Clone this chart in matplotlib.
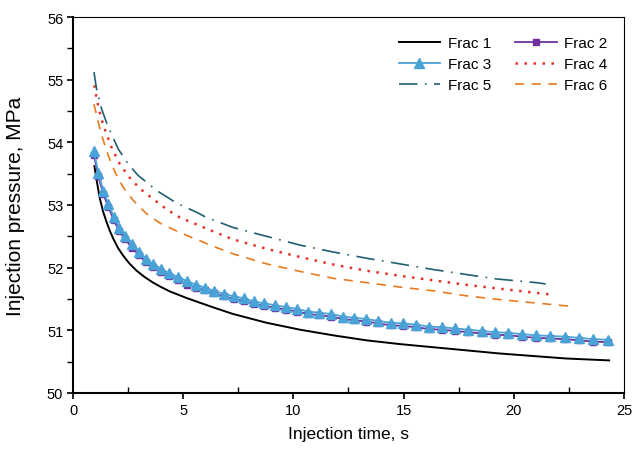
import matplotlib
matplotlib.use('Agg')
import matplotlib.pyplot as plt
from matplotlib import font_manager
from matplotlib.ticker import MultipleLocator

# 时间点 (s) 与注入压力 (MPa)
t1 = [0.97, 1.1, 1.22, 1.37, 1.53, 1.68, 1.83, 2.05, 2.28, 2.55, 2.89, 3.25, 3.64, 4.0, 4.40,
      5.16, 5.76, 6.5, 7.27, 8.79, 10.3, 11.81, 13.32, 14.84, 16.35, 17.86, 19.37, 20.88, 22.4, 24.33]
p1 = [53.62, 53.34, 53.10, 52.89, 52.72, 52.58, 52.46, 52.31, 52.19, 52.07, 51.95, 51.85, 51.76, 51.69, 51.62,
      51.515, 51.44, 51.35, 51.26, 51.12, 51.01, 50.92, 50.84, 50.78, 50.73, 50.68, 50.63, 50.59, 50.55, 50.52]

t23 = [0.95, 1.15, 1.37, 1.60, 1.85, 2.10, 2.37, 2.68, 3.00, 3.31, 3.64, 4.00, 4.37, 4.78, 5.19, 5.58, 6.00,
       6.41, 6.86, 7.32, 7.77, 8.23, 8.68, 9.18, 9.68, 10.18, 10.68, 11.18, 11.72, 12.24, 12.76, 13.31, 13.85,
       14.43, 14.99, 15.55, 16.15, 16.73, 17.33, 17.94, 18.54, 19.15, 19.75, 20.37, 20.99, 21.66, 22.31, 22.96,
       23.61, 24.26]
p2 = [53.80, 53.46, 53.18, 52.97, 52.76, 52.59, 52.45, 52.32, 52.20, 52.09, 52.01, 51.93, 51.86, 51.80, 51.73,
      51.68, 51.64, 51.59, 51.54, 51.50, 51.47, 51.42, 51.39, 51.36, 51.33, 51.30, 51.26, 51.24, 51.22, 51.18,
      51.16, 51.14, 51.11, 51.08, 51.07, 51.05, 51.02, 51.01, 50.99, 50.97, 50.95, 50.93, 50.92, 50.90, 50.88,
      50.87, 50.86, 50.84, 50.82, 50.81]
p3 = [53.86, 53.51, 53.23, 53.02, 52.81, 52.64, 52.50, 52.37, 52.25, 52.14, 52.06, 51.98, 51.91, 51.85, 51.78,
      51.73, 51.68, 51.63, 51.58, 51.54, 51.51, 51.46, 51.43, 51.40, 51.37, 51.34, 51.30, 51.28, 51.26, 51.22,
      51.20, 51.18, 51.15, 51.12, 51.11, 51.09, 51.06, 51.05, 51.03, 51.01, 50.99, 50.97, 50.96, 50.94, 50.92,
      50.91, 50.90, 50.88, 50.86, 50.85]

t4 = [0.97, 1.03, 1.10, 1.18, 1.27, 1.37, 1.50, 1.63, 1.77, 2.13, 2.56, 3.04, 3.62, 4.25, 4.85, 5.54, 6.07,
      7.27, 8.79, 10.3, 11.81, 13.33, 14.84, 16.5, 17.98, 19.47, 20.96, 21.72]
p4 = [54.91, 54.78, 54.65, 54.53, 54.40, 54.28, 54.15, 54.03, 53.90, 53.65, 53.44, 53.26, 53.10, 52.93, 52.80,
      52.70, 52.62, 52.45, 52.30, 52.17, 52.05, 51.95, 51.87, 51.79, 51.72, 51.66, 51.60, 51.57]

t5 = [0.95, 1.07, 1.30, 1.60, 2.06, 2.51, 2.96, 3.8, 4.7, 5.69, 6.0, 7.27, 8.79, 10.3, 11.81, 13.33, 14.84,
      16.35, 17.86, 19.22, 21.04, 21.45]
p5 = [55.12, 54.85, 54.53, 54.24, 53.89, 53.65, 53.47, 53.23, 53.03, 52.87, 52.81, 52.64, 52.50, 52.36, 52.25,
      52.15, 52.06, 51.97, 51.89, 51.82, 51.76, 51.74]

t6 = [0.95, 1.07, 1.30, 1.60, 1.91, 2.28, 2.74, 3.34, 3.95, 4.85, 5.76, 6.22, 7.27, 8.79, 10.3, 11.81, 13.33,
      14.84, 16.35, 17.86, 19.37, 20.88, 22.7]
p6 = [54.61, 54.43, 54.11, 53.79, 53.52, 53.28, 53.07, 52.86, 52.71, 52.56, 52.43, 52.36, 52.22, 52.06, 51.94,
      51.83, 51.76, 51.69, 51.63, 51.55, 51.49, 51.44, 51.38]

labels = ['Frac 1', 'Frac 2', 'Frac 3', 'Frac 4', 'Frac 5', 'Frac 6']

plt.rcParams['font.family'] = ['Liberation Sans', 'DejaVu Sans']

# x 轴标题在原图里偏窄，有 Narrow 字体就用
try:
    font_manager.findfont('Liberation Sans Narrow', fallback_to_default=False)
    xlab_font = dict(family='Liberation Sans Narrow', fontsize=15)
except Exception:
    xlab_font = dict(family='Liberation Sans', fontsize=12.5)

fig = plt.figure(figsize=(6.36, 4.56), dpi=100)
ax = fig.add_axes([0.1148, 0.136, 0.8662, 0.8245])

h1, = ax.plot(t1, p1, color='black', lw=1.4)
h2, = ax.plot(t23, p2, color='#7030a0', lw=1.3, marker='s', ms=5, mec='#7030a0', mfc='#7030a0')
h3, = ax.plot(t23, p3, color='#4aa3d6', lw=1.3, marker='^', ms=6.5, mec='#4aa3d6', mfc='#4aa3d6')
h4, = ax.plot(t4, p4, color='#e8302a', lw=1.8, linestyle=(0, (1, 2.6)))
h5, = ax.plot(t5, p5, color='#1f5f73', lw=1.2, linestyle=(0, (11, 4.5, 1, 4.5)))
h6, = ax.plot(t6, p6, color='#ea7a1e', lw=1.2, linestyle=(0, (5.5, 4.5)))

ax.set_xlim(0, 25)
ax.set_ylim(50, 56)
ax.xaxis.set_major_locator(MultipleLocator(5))
ax.xaxis.set_minor_locator(MultipleLocator(2.5))
ax.yaxis.set_major_locator(MultipleLocator(1))
ax.yaxis.set_minor_locator(MultipleLocator(0.5))
ax.tick_params(axis='both', which='major', direction='out', length=4, width=1.2, labelsize=10.5, pad=3)
ax.tick_params(axis='x', which='minor', direction='in', length=4, width=1.0)
ax.tick_params(axis='y', which='minor', direction='out', length=4, width=1.0)

for s in ['left', 'bottom']:
    ax.spines[s].set_linewidth(1.5)
for s in ['top', 'right']:
    ax.spines[s].set_linewidth(0.8)

ax.set_xlabel('Injection time, s', labelpad=7, **xlab_font)
ax.set_ylabel('Injection pressure, MPa', fontsize=15, labelpad=16)

handles = [h1, h3, h5, h2, h4, h6]
names = [labels[0], labels[2], labels[4], labels[1], labels[3], labels[5]]
ax.legend(handles, names, ncol=2, loc='upper right', bbox_to_anchor=(0.995, 0.985), frameon=False,
          fontsize=11, handlelength=2.7, handletextpad=0.5, columnspacing=1.6, labelspacing=0.45,
          numpoints=1, markerscale=1.0)

fig.savefig('out.png', dpi=100)
